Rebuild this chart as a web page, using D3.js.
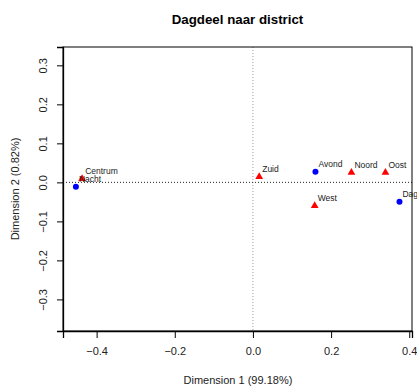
<!DOCTYPE html>
<html>
<head>
<meta charset="utf-8">
<script src="https://cdn.jsdelivr.net/npm/d3@7"></script>
<style>
  body { margin: 0; background: #fff; }
  text { font-family: "Liberation Sans", Arial, sans-serif; }
</style>
</head>
<body>
<script>
// Row points (dagdeel) and column points (district)
const rowNames = ['Nacht', 'Avond', 'Dag'];
const rowX = [-0.453, 0.160, 0.375];
const rowY = [-0.011, 0.027, -0.050];

const colNames = ['Centrum', 'Zuid', 'Noord', 'Oost', 'West'];
const colX = [-0.437, 0.016, 0.252, 0.339, 0.158];
const colY = [0.008, 0.013, 0.024, 0.024, -0.061];

const xTicks = [-0.4, -0.2, 0.0, 0.2, 0.4];
const yTicks = [-0.3, -0.2, -0.1, 0.0, 0.1, 0.2, 0.3];

const W = 417, H = 387;
const margin = { top: 47, right: 5, bottom: 56, left: 63 };

const svg = d3.select('body').append('svg')
  .attr('width', W)
  .attr('height', H);

const x = d3.scaleLinear()
  .domain([-0.486, 0.407])
  .range([margin.left, W - margin.right]);

const y = d3.scaleLinear()
  .domain([-0.381, 0.347])
  .range([H - margin.bottom, margin.top]);

const fmt = d => d3.format('.1f')(d).replace('-', '\u2212');

// title
svg.append('text')
  .attr('x', 237.5)
  .attr('y', 24)
  .attr('text-anchor', 'middle')
  .style('font-weight', 'bold')
  .style('font-size', '13.3px')
  .text('Dagdeel naar district');

// reference lines
svg.append('line')
  .attr('x1', x(0)).attr('x2', x(0))
  .attr('y1', margin.top).attr('y2', H - margin.bottom)
  .attr('stroke', '#999')
  .attr('stroke-dasharray', '1,2');

svg.append('line')
  .attr('x1', margin.left).attr('x2', W - margin.right)
  .attr('y1', y(0)).attr('y2', y(0))
  .attr('stroke', '#222')
  .attr('stroke-dasharray', '1,2');

// box
svg.append('rect')
  .attr('x', margin.left)
  .attr('y', margin.top)
  .attr('width', W - margin.left - margin.right)
  .attr('height', H - margin.top - margin.bottom)
  .attr('fill', 'none')
  .attr('stroke', '#000');

// axes
const xAxis = svg.append('g')
  .attr('transform', `translate(0,${H - margin.bottom})`)
  .call(d3.axisBottom(x).tickValues(xTicks).tickFormat(fmt).tickSizeOuter(0).tickSize(7).tickPadding(9));

xAxis.selectAll('text')
  .style('font-size', '11px')
  .attr('fill', '#222');

const yAxis = svg.append('g')
  .attr('transform', `translate(${margin.left},0)`)
  .call(d3.axisLeft(y).tickValues(yTicks).tickFormat(fmt).tickSizeOuter(0).tickSize(6));

yAxis.selectAll('.tick text')
  .attr('transform', 'rotate(-90)')
  .attr('x', 0)
  .attr('y', -20)
  .attr('dy', '0.32em')
  .attr('text-anchor', 'middle')
  .style('font-size', '11px')
  .attr('fill', '#222');

svg.selectAll('.domain').attr('stroke-width', 1.3);

// axis titles
svg.append('text')
  .attr('x', x(0) - 15)
  .attr('y', 384)
  .attr('text-anchor', 'middle')
  .style('font-size', '11px')
  .attr('fill', '#222')
  .text('Dimension 1 (99.18%)');

svg.append('text')
  .attr('transform', `translate(19,${(margin.top + H - margin.bottom) / 2}) rotate(-90)`)
  .attr('text-anchor', 'middle')
  .style('font-size', '11px')
  .attr('fill', '#222')
  .text('Dimension 2 (0.82%)');

// column points (red triangles)
svg.selectAll('.col')
  .data(colNames)
  .enter().append('path')
  .attr('class', 'col')
  .attr('d', d3.symbol().type(d3.symbolTriangle).size(26))
  .attr('transform', (d, i) => `translate(${x(colX[i])},${y(colY[i]) - 0.5})`)
  .attr('fill', '#f00');

// row points (blue dots)
svg.selectAll('.row')
  .data(rowNames)
  .enter().append('circle')
  .attr('class', 'row')
  .attr('cx', (d, i) => x(rowX[i]))
  .attr('cy', (d, i) => y(rowY[i]))
  .attr('r', 3)
  .attr('fill', '#00f');

// labels (Centrum and Nacht overlap in the original too)
const labels = rowNames.map((n, i) => ({ n, px: rowX[i], py: rowY[i] }))
  .concat(colNames.map((n, i) => ({ n, px: colX[i], py: colY[i] })));

svg.selectAll('.lab')
  .data(labels)
  .enter().append('text')
  .attr('class', 'lab')
  .attr('x', d => x(d.px) + 3)
  .attr('y', d => y(d.py) - 5)
  .style('font-size', '8.5px')
  .attr('fill', '#222')
  .text(d => d.n);
</script>
</body>
</html>
